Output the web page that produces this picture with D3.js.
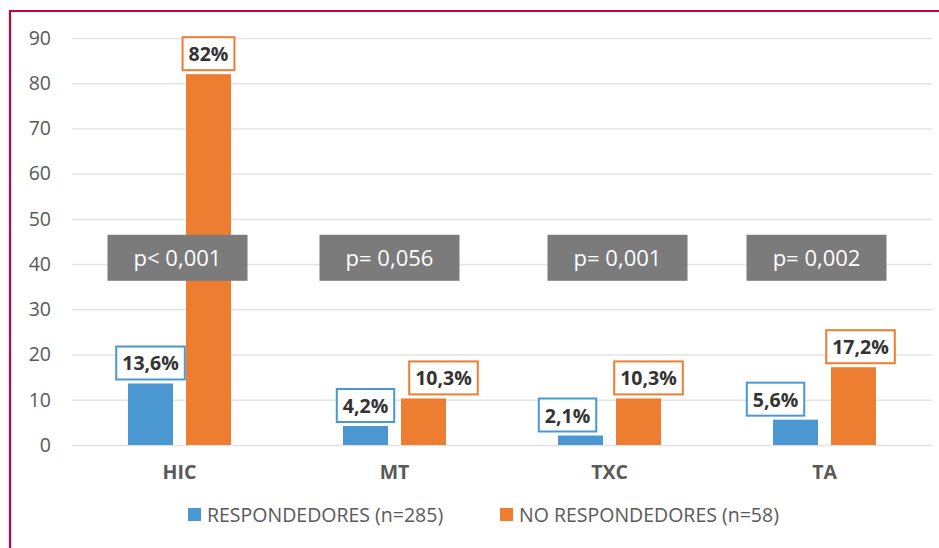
<!DOCTYPE html>
<html>
<head>
<meta charset="utf-8">
<script src="https://cdn.jsdelivr.net/npm/d3@7"></script>
<style>
  body { margin: 0; background: #fff; }
  svg { display: block; font-family: "Open Sans", "Noto Sans", sans-serif; }
</style>
</head>
<body>
<svg id="drawing_region"></svg>
<script>
// data
const categories = ['HIC', 'MT', 'TXC', 'TA'];
const seriesNames = ['RESPONDEDORES (n=285)', 'NO RESPONDEDORES (n=58)'];
const respondedores = [13.6, 4.2, 2.1, 5.6];
const noRespondedores = [82, 10.3, 10.3, 17.2];
const pValues = ['p< 0,001', 'p= 0,056', 'p= 0,001', 'p= 0,002'];
const yTicks = [0, 10, 20, 30, 40, 50, 60, 70, 80, 90];

// manual label nudges (px), as in the original layout
const labelShift = [[0, 0], [0, 20], [-13, 10], [-20, 7]];
const pShift = [-2, -5, 8, -8];
const pLevel = 41.4;

const colors = ['#4B97D1', '#ED7D31'];
const font = '"Open Sans", "Noto Sans", sans-serif';
const width = 939, height = 548;
const margin = {top: 38, left: 72, right: 7, bottom: 103};

const svg = d3.select('#drawing_region')
    .attr('width', width)
    .attr('height', height);

// frame
svg.append('line').attr('x1', 9).attr('x2', width).attr('y1', 11).attr('y2', 11)
    .attr('stroke', '#C0063F').attr('stroke-width', 2.2);
svg.append('line').attr('x1', 10).attr('x2', 10).attr('y1', 10).attr('y2', height)
    .attr('stroke', '#C0063F').attr('stroke-width', 2.2);

const innerW = width - margin.left - margin.right;
const innerH = height - margin.top - margin.bottom;

const chart = svg.append('g')
    .attr('transform', `translate(${margin.left}, ${margin.top})`);

const x0 = d3.scaleBand().domain(categories).range([0, innerW])
    .paddingInner(0.521).paddingOuter(0.2605);
const x1 = d3.scaleBand().domain([0, 1]).range([0, x0.bandwidth()])
    .paddingInner(0.224).paddingOuter(0);
const y = d3.scaleLinear().domain([0, 90]).range([innerH, 0]);

// gridlines + y labels
const yaxis = d3.axisLeft(y).tickValues(yTicks).tickSize(-innerW).tickPadding(21);
const yg = chart.append('g').call(yaxis).attr('font-family', font);
yg.select('.domain').remove();
yg.selectAll('.tick line').attr('stroke', '#E3E3E3').attr('stroke-width', 1.5);
yg.selectAll('.tick text').attr('fill', '#595959').style('font-size', '19.5px');

// x labels
const xaxis = d3.axisBottom(x0).tickSize(0).tickPadding(20);
const xg = chart.append('g').attr('transform', `translate(0, ${innerH})`).call(xaxis)
    .attr('font-family', font);
xg.select('.domain').remove();
xg.selectAll('.tick text').attr('fill', '#595959').style('font-size', '19.5px').style('font-weight', 'bold');

const rows = categories.map((c, i) => ({
    cat: c, i: i, values: [respondedores[i], noRespondedores[i]]
}));

const groups = chart.selectAll('.grp').data(rows).enter().append('g')
    .attr('transform', d => `translate(${x0(d.cat)}, 0)`);

groups.selectAll('rect.bar')
    .data(d => d.values.map((v, s) => ({v: v, s: s, i: d.i})))
    .enter().append('rect')
    .attr('class', 'bar')
    .attr('x', d => x1(d.s))
    .attr('width', x1.bandwidth())
    .attr('y', d => y(d.v))
    .attr('height', d => innerH - y(d.v))
    .attr('fill', d => colors[d.s]);

// p-value boxes
const pw = 140, ph = 46;
groups.each(function(d) {
    const g = d3.select(this);
    const cx = x0.bandwidth() / 2 + pShift[d.i];
    g.append('rect')
        .attr('x', cx - pw / 2).attr('y', y(pLevel) - ph / 2)
        .attr('width', pw).attr('height', ph)
        .attr('fill', '#7B7B7B');
    g.append('text')
        .attr('x', cx).attr('y', y(pLevel) + 8)
        .attr('text-anchor', 'middle')
        .attr('fill', '#fff')
        .style('font-size', '22px')
        .text(pValues[d.i]);
});

// data labels
const fmt = v => String(v).replace('.', ',') + '%';
groups.selectAll('g.lbl')
    .data(d => d.values.map((v, s) => ({v: v, s: s, i: d.i})))
    .enter().append('g')
    .attr('class', 'lbl')
    .each(function(d) {
        const g = d3.select(this);
        const cx = x1(d.s) + x1.bandwidth() / 2 + labelShift[d.i][d.s];
        const bottom = y(d.v) - 4;
        const rect = g.append('rect');
        const t = g.append('text')
            .attr('x', cx).attr('y', bottom - 9)
            .attr('text-anchor', 'middle')
            .attr('fill', '#333')
            .style('font-size', '19.5px').style('font-weight', 'bold')
            .text(fmt(d.v));
        const w = t.node().getComputedTextLength() + 12;
        rect.attr('x', cx - w / 2).attr('y', bottom - 33)
            .attr('width', w).attr('height', 33)
            .attr('fill', '#fff')
            .attr('stroke', colors[d.s]).attr('stroke-width', 2);
    });

// legend
const legendX = [188, 500];
const legend = svg.selectAll('.leg').data(seriesNames).enter().append('g')
    .attr('transform', (d, i) => `translate(${legendX[i]}, 508)`);
legend.append('rect').attr('width', 13).attr('height', 13).attr('fill', (d, i) => colors[i]);
legend.append('text').attr('x', 19).attr('y', 13.5)
    .attr('fill', '#595959').style('font-size', '19.5px')
    .text(d => d);
</script>
</body>
</html>
